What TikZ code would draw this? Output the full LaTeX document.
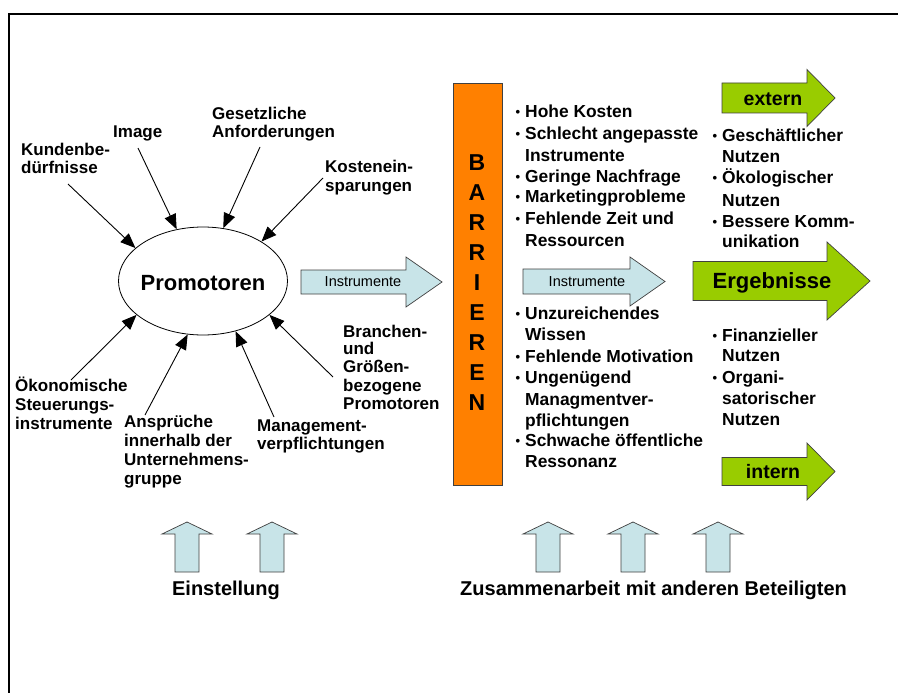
\documentclass[tikz,border=0pt]{standalone}
\usepackage{fontspec}
\setmainfont{Liberation Sans}
\usetikzlibrary{arrows.meta,shapes.geometric}
\definecolor{lblue}{RGB}{200,228,232}
\definecolor{lgreen}{RGB}{153,204,0}
\definecolor{orng}{RGB}{255,128,0}
\newcommand\bul{\llap{\raisebox{1.2pt}{\fontsize{13}{13}\selectfont •}\hspace{5pt}}}
% horizontal block arrow: x0, xb, xt, cy, body half, head half, fill
\newcommand\harrow[7]{\draw[blockarrow, fill=#7] ({#1},{#4-#5}) -- ({#2},{#4-#5}) -- ({#2},{#4-#6}) -- ({#3},{#4}) -- ({#2},{#4+#6}) -- ({#2},{#4+#5}) -- ({#1},{#4+#5}) -- cycle;}
% vertical up block arrow: cx
\newcommand\uarrow[1]{\draw[blockarrow, fill=lblue] ({#1-12},572) -- ({#1-12},534) -- ({#1-25},534) -- ({#1},522) -- ({#1+25},534) -- ({#1+12},534) -- ({#1+12},572) -- cycle;}
\begin{document}
\begin{tikzpicture}[x=1pt,y=-1pt,
  lab/.style={font=\fontsize{17}{18}\selectfont\bfseries, inner sep=0pt, anchor=west, text height=12pt, text depth=3.5pt},
  lst/.style={lab, font=\fontsize{17.4}{18}\selectfont\bfseries},
  conn/.style={line width=0.9pt, -{Triangle[length=15pt,width=12pt]}},
  blockarrow/.style={draw=black!75, line width=0.7pt},
  instr/.style={font=\fontsize{14.5}{15}\selectfont, inner sep=0pt},
  greentxt/.style={font=\fontsize{19.5}{20}\selectfont\bfseries, inner sep=0pt},
  bottomtxt/.style={font=\fontsize{20}{21}\selectfont\bfseries, inner sep=0pt, text height=14pt, text depth=4pt},
  barletter/.style={font=\fontsize{23}{23}\selectfont\bfseries, inner sep=0pt}]
\useasboundingbox (0,0) rectangle (898,693);
\fill[white] (0,0) rectangle (898,693);
% frame
\draw[line width=2pt] (9,693) -- (9,14) -- (898,14);

% ellipse
\node[draw, line width=0.8pt, ellipse, minimum width=169pt, minimum height=108pt, inner sep=0pt] (P) at (203,281) {};
\node[font=\fontsize{22}{22}\selectfont\bfseries, inner sep=0pt] (Ptxt) at (203,283) {Promotoren};

% upper labels
\node[lab] (k1) at (21,151) {Kundenbe-};
\node[lab] (k2) at (21,169) {dürfnisse};
\node[lab] (im) at (113,133) {Image};
\node[lab] (g1) at (212,115) {Gesetzliche};
\node[lab] (g2) at (212,133) {Anforderungen};
\node[lab] (ko1) at (325,168) {Kostenein-};
\node[lab] (ko2) at (325,187) {sparungen};
% lower labels
\node[lab] (o1) at (15,387) {Ökonomische};
\node[lab] (o2) at (15,406) {Steuerungs-};
\node[lab] (o3) at (15,425) {instrumente};
\node[lab] (a1) at (124,423) {Ansprüche};
\node[lab] (a2) at (124,442) {innerhalb der};
\node[lab] (a3) at (124,461) {Unternehmens-};
\node[lab] (a4) at (124,480) {gruppe};
\node[lab] (m1) at (257,427) {Management-};
\node[lab] (m2) at (257,445) {verpflichtungen};
\node[lab] (br1) at (343,333) {Branchen-};
\node[lab] (br2) at (343,350) {und};
\node[lab] (br3) at (343,368) {Größen-};
\node[lab] (br4) at (343,387) {bezogene};
\node[lab] (br5) at (343,405) {Promotoren};

% connector start points
\coordinate (sK) at (68,184);
\coordinate (sI) at (138,148);
\coordinate (sG) at (260,147);
\coordinate (sKo) at (323,178);
\coordinate (sO) at (71,380);
\coordinate (sA) at (145,415);
\coordinate (sM) at (274,417);
\coordinate (sB) at (333,377);
\draw[conn] (sK) -- (P.154);
\draw[conn] (sI) -- (P.117);
\draw[conn] (sG) -- (P.69);
\draw[conn] (sKo) -- (P.34);
\draw[conn] (sO) -- (P.207);
\draw[conn] (sA) -- (P.254);
\draw[conn] (sM) -- (P.303);
\draw[conn] (sB) -- (P.333);

% Instrumente arrows
\harrow{301}{406}{442}{282}{12}{25}{lblue}
\node[instr] (in1) at (363,282) {Instrumente};
\harrow{523}{630}{665}{281.5}{12.5}{24.5}{lblue}
\node[instr] (in2) at (587,282) {Instrumente};

% Barrier bar
\draw[draw=black!75, line width=0.7pt, fill=orng] (453,83) rectangle (502,485);
\foreach \l [count=\i] in {B,A,R,R,I,E,R,E,N}
  \node[barletter] (bar\i) at (477,{133+30*\i}) {\l};

% barrier lists
\foreach \y/\t [count=\i] in {113/{\bul Hohe Kosten}, 135/{\bul Schlecht angepasste}, 157/{Instrumente}, 178/{\bul Geringe Nachfrage}, 198/{\bul Marketingprobleme}, 220/{\bul Fehlende Zeit und}, 242/{Ressourcen}}
  \node[lst] (bu\i) at (525,\y) {\t};
\foreach \y/\t [count=\i] in {315/{\bul Unzureichendes}, 336/{Wissen}, 358/{\bul Fehlende Motivation}, 379/{\bul Ungenügend}, 401/{Managmentver-}, 422/{pflichtungen}, 442/{\bul Schwache öffentliche}, 463/{Ressonanz}}
  \node[lst] (bl\i) at (525,\y) {\t};

% result lists
\foreach \y/\t [count=\i] in {137/{\bul Geschäftlicher}, 158/{Nutzen}, 179/{\bul Ökologischer}, 202/{Nutzen}, 223/{\bul Bessere Komm-}, 243/{unikation}}
  \node[lst] (ru\i) at (722,\y) {\t};
\foreach \y/\t [count=\i] in {337/{\bul Finanzieller}, 357/{Nutzen}, 379/{\bul Organi-}, 400/{satorischer}, 421/{Nutzen}}
  \node[lst] (rl\i) at (722,\y) {\t};

% green arrows
\harrow{722}{807}{835}{98}{15}{28.5}{lgreen}
\node[greentxt] (ext) at (773,99) {extern};
\harrow{693}{827}{870}{281}{19.5}{39}{lgreen}
\node[font=\fontsize{22}{22}\selectfont\bfseries, inner sep=0pt] (erg) at (772,283) {Ergebnisse};
\harrow{722}{807}{835}{471.5}{14}{28.5}{lgreen}
\node[greentxt] (int) at (773,472) {intern};

% bottom up arrows
\uarrow{187}
\uarrow{272}
\uarrow{548}
\uarrow{633}
\uarrow{718}
\node[bottomtxt] (einst) at (226,590) {Einstellung};
\node[bottomtxt, anchor=west] (zus) at (460,590) {Zusammenarbeit mit anderen Beteiligten};
\end{tikzpicture}
\end{document}
